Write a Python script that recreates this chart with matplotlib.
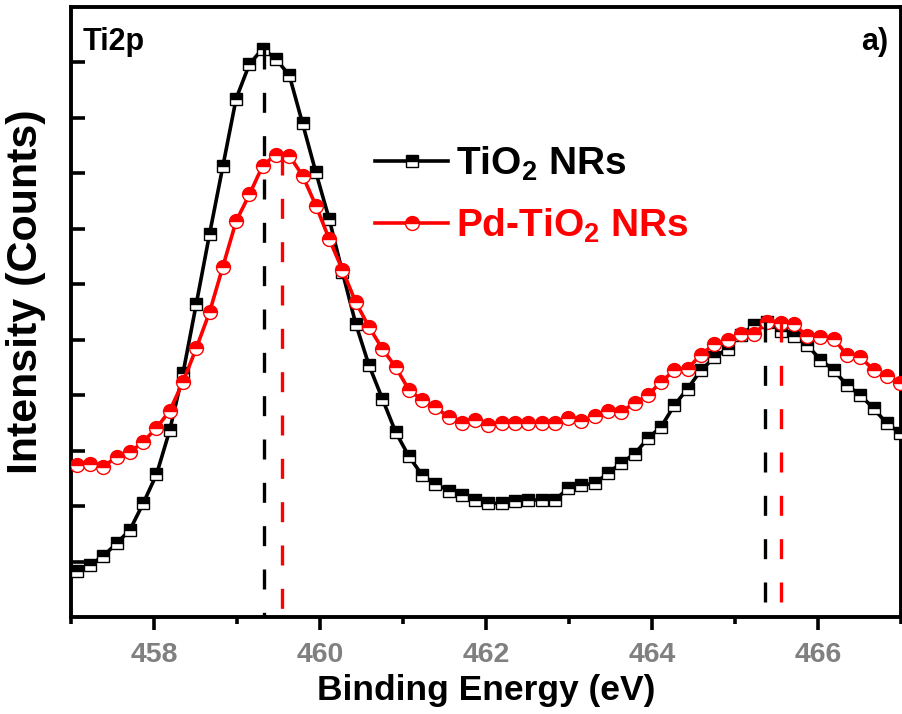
import numpy as np
import matplotlib
matplotlib.use("Agg")
import matplotlib.pyplot as plt
from matplotlib.ticker import MultipleLocator, NullFormatter

plt.rcParams['font.family'] = ['Liberation Sans', 'DejaVu Sans']
plt.rcParams['font.weight'] = 'bold'
plt.rcParams['mathtext.fontset'] = 'custom'
plt.rcParams['mathtext.rm'] = 'Liberation Sans:bold'
plt.rcParams['mathtext.bf'] = 'Liberation Sans:bold'
plt.rcParams['mathtext.default'] = 'rm'

# Binding energy grid (eV)
energy = [457.07 + 0.16 * k for k in range(63)]

tio2 = [0.83, 0.94, 1.10, 1.33, 1.57, 2.05, 2.57, 3.37, 4.40, 5.65,
        6.91, 8.13, 9.35, 9.97, 10.25, 10.06, 9.77, 8.90, 8.02, 7.18,
        6.22, 5.29, 4.54, 3.94, 3.34, 2.90, 2.56, 2.40, 2.28, 2.20,
        2.11, 2.05, 2.05, 2.10, 2.11, 2.11, 2.11, 2.32, 2.38, 2.41,
        2.59, 2.78, 2.94, 3.22, 3.43, 3.82, 4.12, 4.45, 4.68, 4.84,
        5.09, 5.26, 5.32, 5.16, 5.06, 4.90, 4.64, 4.45, 4.18, 4.00,
        3.76, 3.49, 3.32]

pd_tio2 = [2.74, 2.76, 2.71, 2.89, 2.97, 3.16, 3.41, 3.72, 4.24, 4.85,
           5.50, 6.32, 7.14, 7.62, 8.14, 8.34, 8.32, 7.96, 7.42, 6.82,
           6.26, 5.68, 5.23, 4.84, 4.51, 4.10, 3.91, 3.79, 3.60, 3.50,
           3.55, 3.46, 3.49, 3.50, 3.50, 3.49, 3.49, 3.58, 3.54, 3.62,
           3.71, 3.70, 3.86, 4.00, 4.24, 4.45, 4.48, 4.73, 4.92, 4.99,
           5.11, 5.11, 5.32, 5.30, 5.28, 5.06, 5.05, 5.02, 4.72, 4.68,
           4.46, 4.34, 4.22]

# peak markers (dashed lines)
tio2_peaks_x = [459.33, 465.36]
tio2_peaks_y = [10.25, 5.32]
pd_peaks_x = [459.54, 465.55]
pd_peaks_y = [8.34, 5.32]

xticks_major = [458, 460, 462, 464, 466]
yticks = [1, 2, 3, 4, 5, 6, 7, 8, 9, 10]

fig = plt.figure(figsize=(9.03, 7.14), dpi=100)
ax = fig.add_axes([71/903, 1-617/714, 830/903, 610/714])

ax.plot(energy, tio2, color='black', lw=2.6, marker='s', ms=8.5,
        fillstyle='top', markerfacecolor='black', markerfacecoloralt='white',
        markeredgecolor='black', mew=1.0, label=r'TiO$_2$ NRs', zorder=3)
ax.plot(energy, pd_tio2, color='#ff0000', lw=2.6, marker='o', ms=10,
        fillstyle='top', markerfacecolor='#ff0000', markerfacecoloralt='white',
        markeredgecolor='#ff0000', mew=1.0, label=r'Pd-TiO$_2$ NRs', zorder=3)

ax.vlines(tio2_peaks_x, tio2_peaks_y, [0, 0], colors='black', lw=2.4,
          linestyles=(0, (6.0, 7.0)), zorder=4)
ax.vlines(pd_peaks_x, pd_peaks_y, [0, 0], colors='#ff0000', lw=2.4,
          linestyles=(0, (6.0, 7.0)), zorder=4)

ax.set_xlim(457, 467)
ax.set_ylim(0, 11)
ax.xaxis.set_major_locator(MultipleLocator(2))
ax.xaxis.set_minor_locator(MultipleLocator(1))
ax.set_xticks(xticks_major)
ax.set_yticks(yticks)
ax.yaxis.set_major_formatter(NullFormatter())

for s in ax.spines.values():
    s.set_linewidth(2.8)

ax.tick_params(axis='x', which='major', direction='out', length=9, width=2.6,
               labelsize=20.5, labelcolor='#808080', pad=9)
ax.tick_params(axis='x', which='minor', direction='out', length=5, width=2.6)
ax.tick_params(axis='y', which='major', direction='in', length=10, width=2.6)
for lab in ax.get_xticklabels():
    lab.set_fontweight('bold')

ax.set_xlabel('Binding Energy (eV)', fontsize=25.5, fontweight='bold', labelpad=4)
ax.set_ylabel('Intensity (Counts)', fontsize=31, fontweight='bold')
ax.yaxis.set_label_coords(-0.030, 0.534)

ax.text(0.014, 0.967, 'Ti2p', transform=ax.transAxes, fontsize=22,
        fontweight='bold', va='top', ha='left')
ax.text(0.985, 0.967, 'a)', transform=ax.transAxes, fontsize=22,
        fontweight='bold', va='top', ha='right')

leg = ax.legend(loc='upper left', bbox_to_anchor=(0.347, 0.80), frameon=False,
                fontsize=28, handlelength=1.9, handletextpad=0.2,
                labelspacing=0.62, numpoints=1, labelcolor='linecolor',
                borderaxespad=0)
for t in leg.get_texts():
    t.set_fontweight('bold')

fig.savefig('out.png', dpi=100)
